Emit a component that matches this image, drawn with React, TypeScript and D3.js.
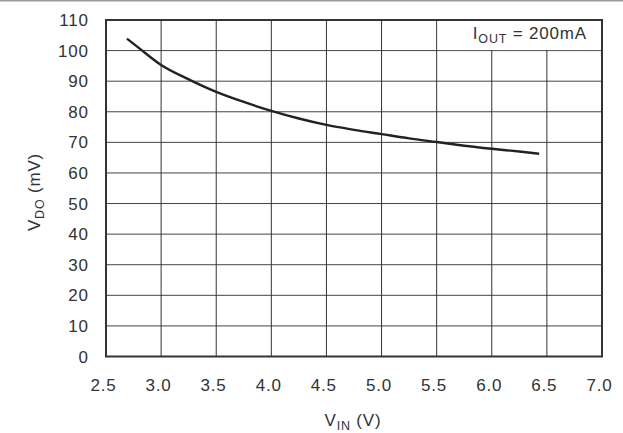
import { useEffect, useRef } from 'react';
import * as d3 from 'd3';

// V_IN (V) vs dropout voltage V_DO (mV), I_OUT = 200mA
const vin = [2.69, 2.8, 3.0, 3.25, 3.5, 3.75, 4.0, 4.25, 4.5, 4.75, 5.0, 5.25, 5.5, 5.75, 6.0, 6.25, 6.43];
const vdo = [103.9, 100.8, 95.3, 90.6, 86.5, 83.2, 80.3, 77.8, 75.7, 74.1, 72.7, 71.3, 70.1, 68.9, 67.9, 67.0, 66.3];

const xTicks = [2.5, 3.0, 3.5, 4.0, 4.5, 5.0, 5.5, 6.0, 6.5, 7.0];
const yTicks = [0, 10, 20, 30, 40, 50, 60, 70, 80, 90, 100, 110];

const width = 623;
const height = 433;
const font = '"Liberation Sans", Arial, sans-serif';
const ink = '#333';
const spacing = 0.8;

export default function App() {
  const svgRef = useRef<SVGSVGElement>(null);

  useEffect(() => {
    if (!svgRef.current) return;
    const svg = d3.select(svgRef.current);
    svg.selectAll('*').remove();

    const x = d3.scaleLinear().domain([2.5, 7.0]).range([106, 602]);
    const y = d3.scaleLinear().domain([0, 110]).range([356.5, 20]);

    // rule across the top of the page
    svg.append('rect')
      .attr('x', 0).attr('y', 0)
      .attr('width', width).attr('height', 1.5)
      .attr('fill', '#9a9a9a');

    // grid
    svg.append('g')
      .selectAll('line')
      .data(yTicks.slice(1, -1))
      .join('line')
      .attr('x1', x(2.5)).attr('x2', x(7.0))
      .attr('y1', d => y(d)).attr('y2', d => y(d))
      .attr('stroke', '#444').attr('stroke-width', 1);

    svg.append('g')
      .selectAll('line')
      .data(xTicks.slice(1, -1))
      .join('line')
      .attr('x1', d => x(d)).attr('x2', d => x(d))
      .attr('y1', y(110)).attr('y2', y(0))
      .attr('stroke', '#333').attr('stroke-width', 1);

    // white box behind the condition label
    svg.append('rect')
      .attr('x', x(5.5) + 1).attr('y', y(110))
      .attr('width', x(7.0) - x(5.5) - 1)
      .attr('height', y(100) - y(110) - 0.5)
      .attr('fill', '#fff');

    // curve
    const line = d3.line<number>()
      .x((_, i) => x(vin[i]))
      .y(d => y(d))
      .curve(d3.curveMonotoneX);

    svg.append('path')
      .datum(vdo)
      .attr('d', line)
      .attr('fill', 'none')
      .attr('stroke', '#222')
      .attr('stroke-width', 2.4);

    // frame
    svg.append('rect')
      .attr('x', x(2.5)).attr('y', y(110))
      .attr('width', x(7.0) - x(2.5))
      .attr('height', y(0) - y(110))
      .attr('fill', 'none')
      .attr('stroke', ink)
      .attr('stroke-width', 2);

    // tick labels
    svg.append('g')
      .selectAll('text')
      .data(yTicks)
      .join('text')
      .attr('x', 88 + spacing)
      .attr('y', d => y(d))
      .attr('dy', '0.36em')
      .attr('text-anchor', 'end')
      .attr('font-family', font)
      .attr('font-size', 17)
      .attr('letter-spacing', spacing)
      .attr('fill', ink)
      .text(d => d);

    svg.append('g')
      .selectAll('text')
      .data(xTicks)
      .join('text')
      .attr('x', d => x(d) - 3 + spacing / 2)
      .attr('y', 391)
      .attr('text-anchor', 'middle')
      .attr('font-family', font)
      .attr('font-size', 17)
      .attr('letter-spacing', spacing)
      .attr('fill', ink)
      .text(d => d.toFixed(1));

    // axis titles
    const xt = svg.append('text')
      .attr('x', 353).attr('y', 426)
      .attr('text-anchor', 'middle')
      .attr('font-family', font)
      .attr('font-size', 17)
      .attr('letter-spacing', spacing)
      .attr('fill', ink);
    xt.append('tspan').text('V');
    xt.append('tspan').attr('font-size', 12.5).attr('dy', 4).text('IN');
    xt.append('tspan').attr('dy', -4).text(' (V)');

    const yt = svg.append('text')
      .attr('transform', 'translate(40,192) rotate(-90)')
      .attr('text-anchor', 'middle')
      .attr('font-family', font)
      .attr('font-size', 17)
      .attr('letter-spacing', spacing)
      .attr('fill', ink);
    yt.append('tspan').text('V');
    yt.append('tspan').attr('font-size', 12.5).attr('dy', 4).text('DO');
    yt.append('tspan').attr('dy', -4).text(' (mV)');

    // condition label
    const lt = svg.append('text')
      .attr('x', 586 + spacing).attr('y', 39)
      .attr('text-anchor', 'end')
      .attr('font-family', font)
      .attr('font-size', 17)
      .attr('letter-spacing', spacing)
      .attr('fill', ink);
    lt.append('tspan').text('I');
    lt.append('tspan').attr('font-size', 12.5).attr('dy', 4).text('OUT');
    lt.append('tspan').attr('dy', -4).text(' = 200mA');
  }, []);

  return (
    <svg
      ref={svgRef}
      width={width}
      height={height}
      style={{ position: 'absolute', left: 0, top: 0, background: '#fff' }}
    />
  );
}
